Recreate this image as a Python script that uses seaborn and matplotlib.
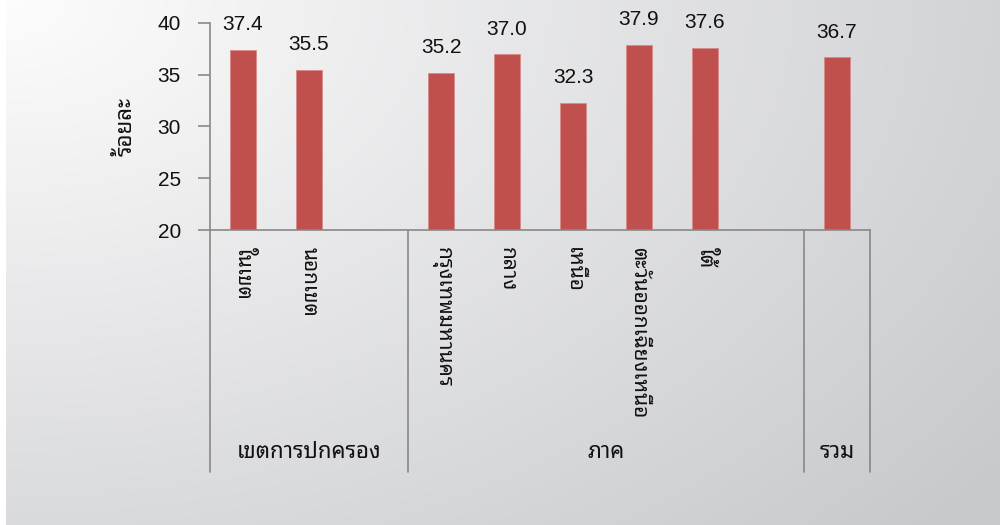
import numpy as np
import pandas as pd
import matplotlib
matplotlib.use("Agg")
import matplotlib.pyplot as plt
from matplotlib import font_manager
import seaborn as sns

# Data
categories = ["ในเขต", "นอกเขต", "กรุงเทพมหานคร", "กลาง", "เหนือ",
              "ตะวันออกเฉียงเหนือ", "ใต้", "รวม"]
values = [37.4, 35.5, 35.2, 37.0, 32.3, 37.9, 37.6, 36.7]
slots = [0, 1, 3, 4, 5, 6, 7, 9]          # slot index of each bar (gaps between groups)
group_names = ["เขตการปกครอง", "ภาค", "รวม"]
group_bounds = [(-0.5, 2.5), (2.5, 8.5), (8.5, 9.5)]
y_ticks = [20, 25, 30, 35, 40]
y_label = "ร้อยละ"


def thai_font():
    """Pick an installed family that has Thai glyphs (looped style preferred)."""
    from fontTools.ttLib import TTFont
    found = []
    for f in font_manager.fontManager.ttflist:
        try:
            tt = TTFont(f.fname, fontNumber=0, lazy=True)
            cmap = tt.getBestCmap()
            if cmap and 0x0E01 in cmap and 0x0E40 in cmap:
                found.append(f.name)
        except Exception:
            pass
    prefs = ["Noto Sans Thai Looped", "Loma", "Garuda", "Tlwg Typo",
             "Noto Serif Thai", "Noto Sans Thai", "Noto Sans Thai UI"]
    for p in prefs:
        if p in found:
            return p
    return found[0] if found else "DejaVu Sans"


sns.set_theme(style="white")
tf = thai_font()
plt.rcParams["font.family"] = ["Liberation Sans", tf, "DejaVu Sans"]
thai = [tf, "DejaVu Sans"]

W, H = 1000, 525
fig = plt.figure(figsize=(W / 100, H / 100), dpi=100)
fig.patch.set_facecolor("white")

# Gradient backdrop panel (light top-left to grey bottom-right)
bg = fig.add_axes([6 / W, 0, 1 - 6 / W, 1], zorder=-10)
gx, gy = np.meshgrid(np.linspace(0, 1, 300), np.linspace(0, 1, 160))
d = np.clip(np.sqrt((gx * 0.9) ** 2 + (gy * 0.75) ** 2) / 1.15, 0, 1)
top = np.array([0.99, 0.99, 0.99])
bot = np.array([0.78, 0.785, 0.80])
img = top[None, None, :] * (1 - d[..., None]) + bot[None, None, :] * d[..., None]
bg.imshow(img, aspect="auto", extent=[0, 1, 1, 0], interpolation="bilinear")
bg.set_axis_off()

# Main plot area: x from 210 to 870 px, y 20 -> 230 px, 40 -> 23 px
x0, x1 = 210, 870
y_top, y_bot = 23, 230
ax = fig.add_axes([x0 / W, 1 - y_bot / H, (x1 - x0) / W, (y_bot - y_top) / H])
ax.set_facecolor("none")

df = pd.DataFrame({"slot": slots, "value": values, "cat": categories})
sns.barplot(data=df, x="slot", y="value", order=list(range(10)),
            color="#C0504D", saturation=1, width=0.4, ax=ax,
            edgecolor="#d88a88", linewidth=0.6)

ax.set_xlim(-0.5, 9.5)
ax.set_ylim(20, 40)
ax.set_yticks(y_ticks)
ax.set_yticklabels([str(t) for t in y_ticks], fontsize=15, color="#111111")
ax.set_xticks([])
ax.set_xlabel("")
ax.set_ylabel("")
ax.tick_params(axis="y", left=True, length=9, width=1.2, color="#888888", pad=12)
for s in ["top", "right"]:
    ax.spines[s].set_visible(False)
for s in ["left", "bottom"]:
    ax.spines[s].set_color("#888888")
    ax.spines[s].set_linewidth(1.2)

# Axis title, bold, reading bottom-to-top
fig.text(126 / W, 1 - 127 / H, y_label, rotation=90, ha="center", va="center",
         fontsize=16, fontweight="bold", family=thai, color="#111111")

# Value labels
for xs, v in zip(slots, values):
    ax.text(xs, v + 1.5, f"{v:.1f}", ha="center", va="bottom", fontsize=15,
            color="#111111")


def px_x(xd):
    return x0 + (xd + 0.5) / 10 * (x1 - x0)


# Category table below the axis
bottom_px = 472
for b in [-0.5, 2.5, 8.5, 9.5]:
    xp = px_x(b)
    fig.add_artist(plt.Line2D([xp / W, xp / W], [1 - y_bot / H, 1 - bottom_px / H],
                              color="#888888", lw=1.2))

for xs, c in zip(slots[:-1], categories[:-1]):
    fig.text(px_x(xs) / W, 1 - 247 / H, c, rotation=-90, ha="center", va="top",
             fontsize=15, family=thai, fontweight="light", color="#111111")

for name, (a, b) in zip(group_names, group_bounds):
    xc = (px_x(a) + px_x(b)) / 2
    fig.text(xc / W, 1 - 453 / H, name, ha="center", va="center", fontsize=16,
             family=thai, fontweight="light", color="#111111")

fig.savefig("out.png", dpi=100, facecolor=fig.get_facecolor())
